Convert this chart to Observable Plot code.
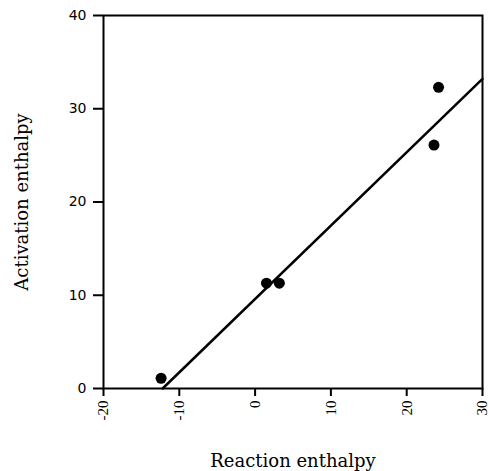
<!DOCTYPE html>
<html><head><meta charset="utf-8">
<script src="https://cdn.jsdelivr.net/npm/d3@7"></script>
<script src="https://cdn.jsdelivr.net/npm/@observablehq/plot@0.6"></script>
<style>body{margin:0;background:#fff}</style>
</head><body><div id="chart"></div>
<script>
const reactionEnthalpy = [-12.4, 1.5, 3.2, 24.2, 23.6];
const activationEnthalpy = [1.1, 11.3, 11.3, 32.3, 26.1];
const fitX = [-12.2, 30];
const fitY = [0, 33.2];
const xTicks = [-20, -10, 0, 10, 20, 30];
const yTicks = [0, 10, 20, 30, 40];

const points = reactionEnthalpy.map((x, i) => ({x, y: activationEnthalpy[i]}));
const fit = fitX.map((x, i) => ({x, y: fitY[i]}));

const chart = Plot.plot({
  width: 489, height: 471,
  marginLeft: 103, marginRight: 7, marginTop: 15, marginBottom: 83,
  style: {background: "#fff", color: "#000"},
  x: {domain: [-20, 30]},
  y: {domain: [0, 40]},
  marks: [
    Plot.frame({stroke: "#000", strokeWidth: 2}),
    Plot.axisX({ticks: xTicks, tickFormat: d => String(d), tickRotate: -90, tickSize: 8, tickPadding: 4, strokeWidth: 2,
      fontSize: 15, fontFamily: "Liberation Serif", label: null}),
    Plot.axisY({ticks: yTicks, tickFormat: d => String(d), tickSize: 10, tickPadding: 7, strokeWidth: 2,
      fontSize: 14, fontFamily: "DejaVu Sans", label: null}),
    Plot.text(["Reaction enthalpy"], {frameAnchor: "bottom", textAnchor: "middle", lineAnchor: "bottom", dy: 78, dx: 0, fontSize: 18, fontFamily: "DejaVu Serif", fill: "#000"}),
    Plot.text(["Activation enthalpy"], {frameAnchor: "left", textAnchor: "middle", lineAnchor: "middle", dx: -81, rotate: -90, fontSize: 18, fontFamily: "DejaVu Serif", fill: "#000"}),
    Plot.line(fit, {x: "x", y: "y", stroke: "#000", strokeWidth: 2.5}),
    Plot.dot(points, {x: "x", y: "y", r: 5.5, fill: "#000", stroke: "none"})
  ]
});
document.getElementById("chart").append(chart);
</script>
</body></html>
